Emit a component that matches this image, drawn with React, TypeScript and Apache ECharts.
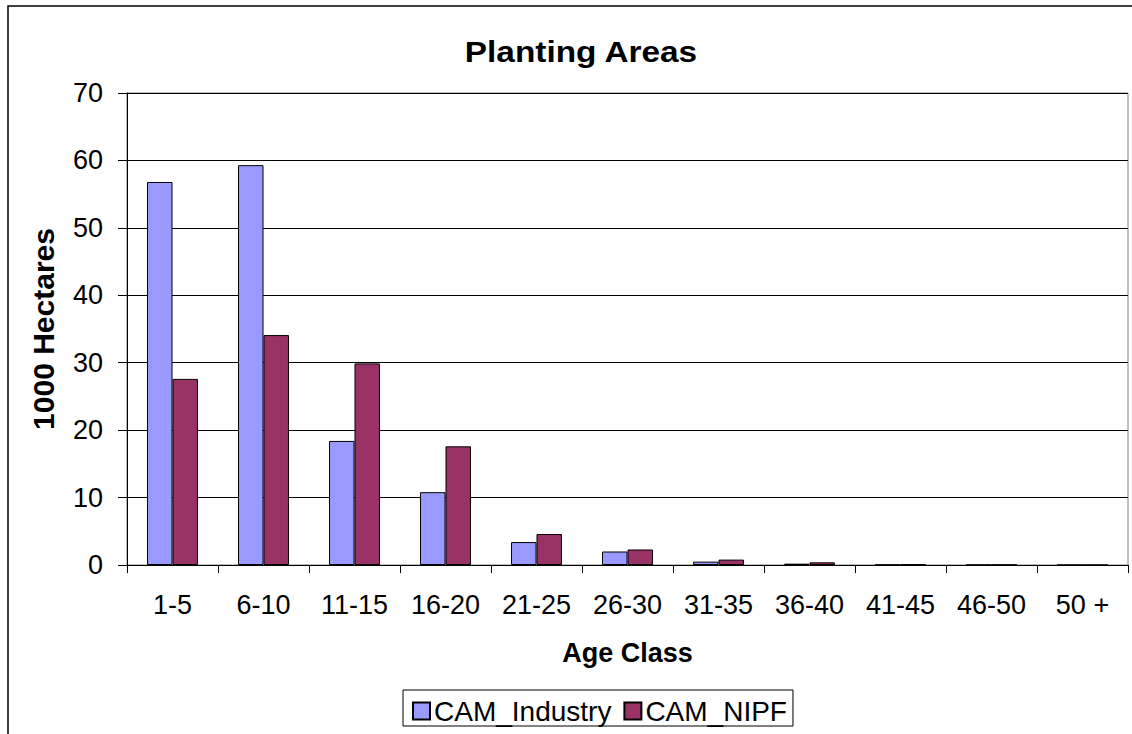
import React, { useEffect, useRef } from "react";
import * as echarts from "echarts";

const categories = ["1-5", "6-10", "11-15", "16-20", "21-25", "26-30", "31-35", "36-40", "41-45", "46-50", "50 +"];
const industry = [56.8, 59.3, 18.4, 10.8, 3.4, 2.0, 0.5, 0.2, 0.05, 0.02, 0];
const nipf = [27.6, 34.1, 29.9, 17.6, 4.6, 2.3, 0.8, 0.4, 0.1, 0.05, 0];
const yTicks = [0, 10, 20, 30, 40, 50, 60, 70];
const titleText = "Planting Areas";

const FONT = "'Liberation Sans', Arial, sans-serif";

export default function App() {
  const ref = useRef<HTMLDivElement>(null);
  useEffect(() => {
    if (!ref.current) return;
    const chart = echarts.init(ref.current, undefined, { renderer: "svg" });
    chart.setOption({
      animation: false,
      textStyle: { fontFamily: FONT, color: "#000" },
      graphic: [
        {
          type: "rect",
          shape: { x: 8, y: 6, width: 1140, height: 760 },
          style: { fill: "none", stroke: "#000", lineWidth: 1.5 },
          silent: true,
          z: -1,
        },
        {
          type: "text",
          x: 581,
          y: 52.5,
          scaleX: 1.15,
          style: {
            text: titleText,
            fontFamily: FONT,
            fontSize: 29,
            fontWeight: "bold",
            fill: "#000",
            textAlign: "center",
            textVerticalAlign: "middle",
          },
          silent: true,
        },
      ],
      legend: {
        top: 690,
        left: 403,
        itemWidth: 17,
        itemHeight: 17,
        itemGap: 12,
        padding: [7, 6, 1, 9],
        borderColor: "#000",
        borderWidth: 1,
        icon: "rect",
        textStyle: { fontFamily: FONT, fontSize: 28, lineHeight: 25, color: "#000", padding: [0, 0, 0, -1] },
        data: ["CAM_Industry", "CAM_NIPF"],
      },
      grid: {
        left: 127,
        top: 93,
        right: 4,
        bottom: 169,
        show: true,
        borderColor: "#808080",
        borderWidth: 1,
      },
      xAxis: {
        type: "category",
        data: categories,
        name: "Age Class",
        nameLocation: "middle",
        nameGap: 74,
        nameTextStyle: { fontFamily: FONT, fontSize: 27, fontWeight: "bold", color: "#000" },
        axisLine: { lineStyle: { color: "#000", width: 1 } },
        axisTick: { show: true, alignWithLabel: false, length: 8, lineStyle: { color: "#000" } },
        axisLabel: { fontFamily: FONT, fontSize: 27, color: "#000", margin: 26 },
      },
      yAxis: {
        type: "value",
        min: 0,
        max: 70,
        interval: 10,
        name: "1000 Hectares",
        nameLocation: "middle",
        nameGap: 69,
        nameTextStyle: { fontFamily: FONT, fontSize: 30, fontWeight: "bold", color: "#000" },
        axisLine: { show: true, lineStyle: { color: "#000", width: 1 } },
        axisTick: { show: true, inside: false, length: 9, lineStyle: { color: "#000" } },
        axisLabel: {
          fontFamily: FONT,
          fontSize: 27,
          color: "#000",
          margin: 24,
          formatter: (v: number) => (yTicks.includes(v) ? String(v) : ""),
        },
        splitLine: { show: true, lineStyle: { color: "#000", width: 1 } },
      },
      series: [
        {
          name: "CAM_Industry",
          type: "bar",
          data: industry,
          barGap: "0%",
          barCategoryGap: "44%",
          itemStyle: { color: "#9999FF", borderColor: "#000", borderWidth: 1 },
        },
        {
          name: "CAM_NIPF",
          type: "bar",
          data: nipf,
          barGap: "0%",
          barCategoryGap: "44%",
          itemStyle: { color: "#993366", borderColor: "#000", borderWidth: 1 },
        },
      ],
    });
    return () => chart.dispose();
  }, []);
  return (
    <div
      ref={ref}
      style={{ position: "fixed", left: 0, top: 0, width: 1132, height: 734, background: "#fff" }}
    />
  );
}
